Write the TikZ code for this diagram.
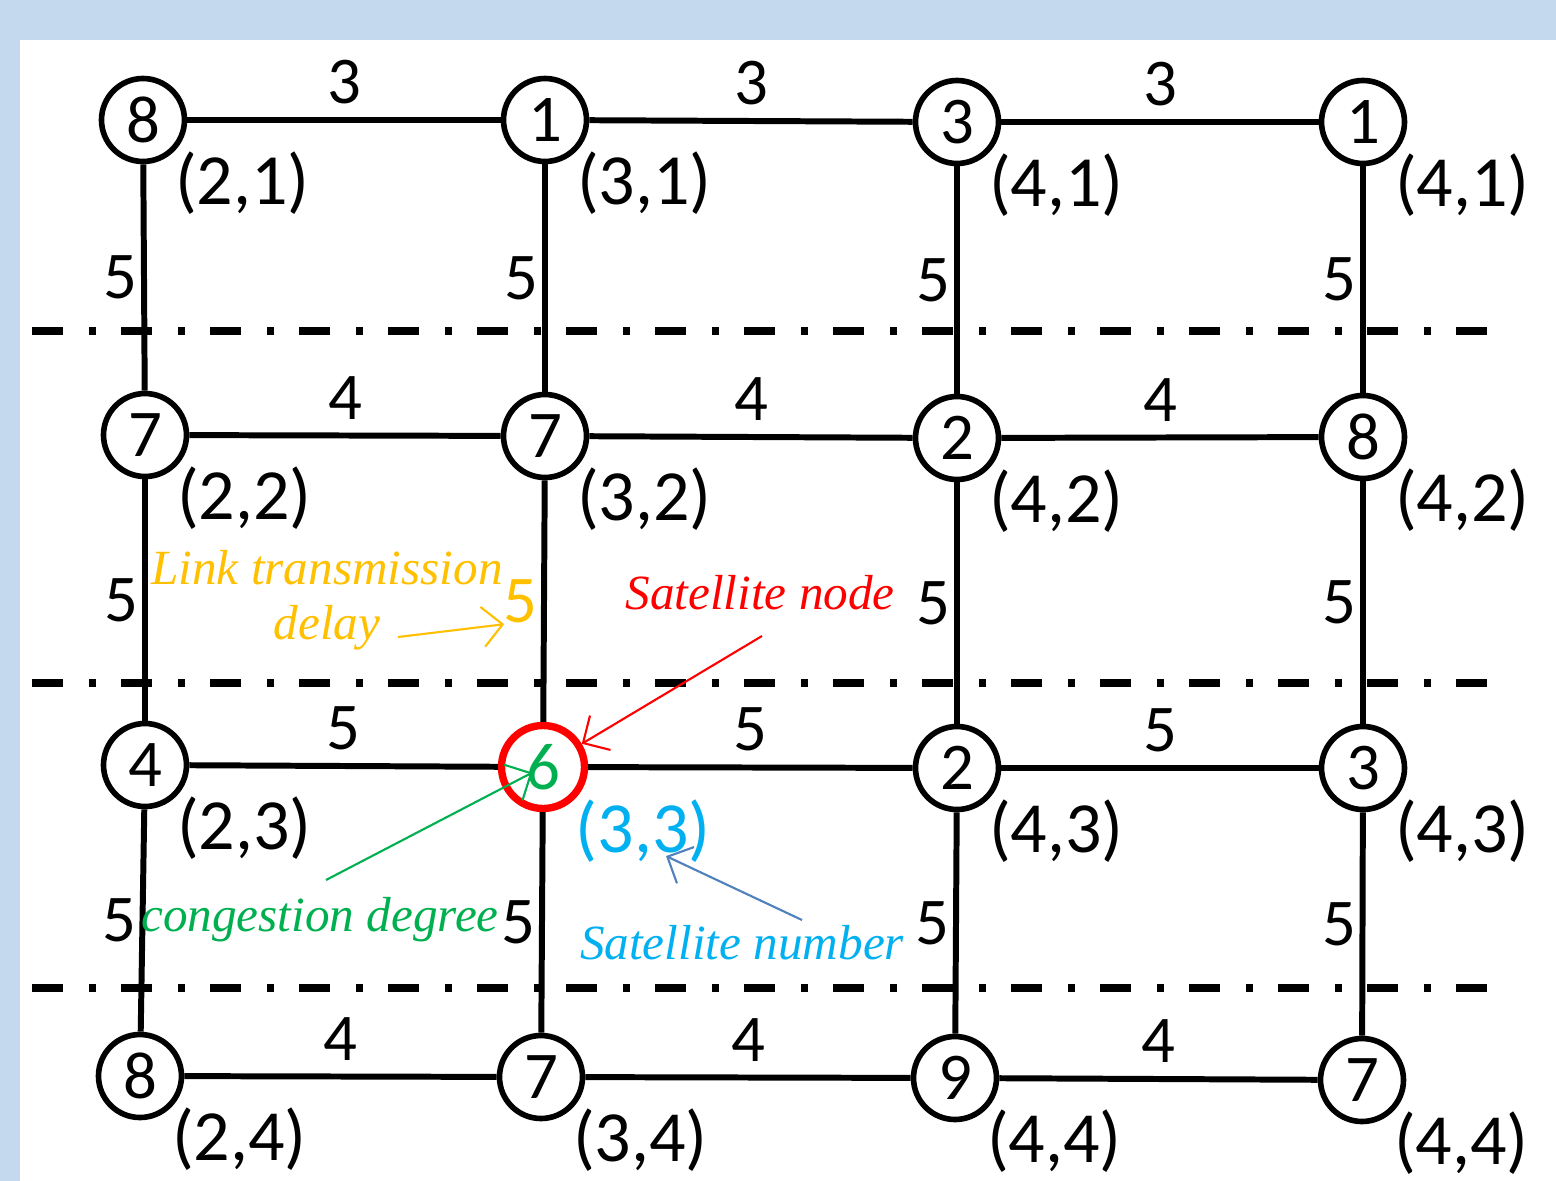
\documentclass[tikz,border=0pt]{standalone}
\usepackage{fontspec}
\setmainfont{Carlito}
\newfontfamily\notefont{Liberation Serif}
\usetikzlibrary{arrows.meta}
\definecolor{bgblue}{RGB}{197,217,238}
\definecolor{delaygold}{RGB}{255,192,0}
\definecolor{congreen}{RGB}{0,176,80}
\definecolor{skyblue}{RGB}{0,176,240}
\definecolor{steelarrow}{RGB}{79,129,189}

\begin{document}
\begin{tikzpicture}[
    sat/.style={
      draw,
      circle,
      line width=1.6pt,
      minimum size=8.3mm,
      inner sep=0pt,
      fill=white,
      font=\fontsize{19}{23}\selectfont
    },
    hot/.style={
      sat,
      draw=red,
      line width=2.1pt,
      text=congreen
    },
    link/.style={line width=1.7pt},
    wt/.style={font=\fontsize{19}{23}\selectfont, inner sep=1pt},
    note/.style={
      font=\notefont\itshape\fontsize{14}{15.6}\selectfont,
      align=center
    },
    tip/.style={-{Straight Barb[length=2mm,width=4mm]}, line width=0.6pt},
    band/.style={line width=2pt, dash pattern=on 3.1mm off 2.6mm on 0.7mm off 2.5mm},
    every label/.style={font=\fontsize{20.5}{24}\selectfont, inner sep=0pt}
    ]
    \useasboundingbox (0,0) rectangle (15.56,-11.81);
    \fill[bgblue] (0,0) rectangle (15.56,-11.81);
    \fill[white] (0.20,-0.40) rectangle (15.56,-11.81);

    \node[sat,label={below right:{(2,1)}}] at (1.43,-1.20)
      (n11) {8};
    \node[sat,label={below right:{(3,1)}}] at (5.45,-1.20)
      (n12) {1};
    \node[sat,label={below right:{(4,1)}}] at (9.57,-1.22)
      (n13) {3};
    \node[sat,label={below right:{(4,1)}}] at (13.63,-1.22)
      (n14) {1};

    \node[sat,label={below right:{(2,2)}}] at (1.45,-4.35)
      (n21) {7};
    \node[sat,label={below right:{(3,2)}}] at (5.45,-4.36)
      (n22) {7};
    \node[sat,label={below right:{(4,2)}}] at (9.57,-4.38)
      (n23) {2};
    \node[sat,label={below right:{(4,2)}}] at (13.63,-4.37)
      (n24) {8};

    \node[sat,label={below right:{(2,3)}}] at (1.45,-7.65)
      (n31) {4};
    \node[hot,label={[name=l33,text=skyblue]below right:{(3,3)}}] at (5.43,-7.67)
      (n33) {6};
    \node[sat,label={below right:{(4,3)}}] at (9.57,-7.68)
      (n34) {2};
    \node[sat,label={below right:{(4,3)}}] at (13.63,-7.68)
      (n35) {3};

    \node[sat,label={below right:{(2,4)}}] at (1.40,-10.76)
      (n41) {8};
    \node[sat,label={below right:{(3,4)}}] at (5.41,-10.77)
      (n42) {7};
    \node[sat,label={below right:{(4,4)}}] at (9.55,-10.78)
      (n43) {9};
    \node[sat,label={below right:{(4,4)}}] at (13.62,-10.80)
      (n44) {7};

    \draw[link] (n11) -- node[wt,above=1mm] {3} (n12);
    \draw[link] (n12) -- node[wt,above=1mm] {3} (n13);
    \draw[link] (n13) -- node[wt,above=1mm] {3} (n14);
    \draw[link] (n21) -- node[wt,above=1mm] {4} (n22);
    \draw[link] (n22) -- node[wt,above=1mm] {4} (n23);
    \draw[link] (n23) -- node[wt,above=1mm] {4} (n24);
    \draw[link] (n31) -- node[wt,above=1mm] {5} (n33);
    \draw[link] (n33) -- node[wt,above=1mm] {5} (n34);
    \draw[link] (n34) -- node[wt,above=1mm] {5} (n35);
    \draw[link] (n41) -- node[wt,above=1mm] {4} (n42);
    \draw[link] (n42) -- node[wt,above=1mm] {4} (n43);
    \draw[link] (n43) -- node[wt,above=1mm] {4} (n44);

    \draw[link] (n11) -- node[wt,left] {5} (n21);
    \draw[link] (n12) -- node[wt,left] {5} (n22);
    \draw[link] (n13) -- node[wt,left] {5} (n23);
    \draw[link] (n14) -- node[wt,left] {5} (n24);
    \draw[link] (n21) -- node[wt,left] {5} (n31);
    \draw[link] (n22) -- node[wt,left,text=delaygold] (dly5) {5} (n33);
    \draw[link] (n23) -- node[wt,left] {5} (n34);
    \draw[link] (n24) -- node[wt,left] {5} (n35);
    \draw[link] (n31) -- node[wt,left] {5} (n41);
    \draw[link] (n33) -- node[wt,left] {5} (n42);
    \draw[link] (n34) -- node[wt,left] {5} (n43);
    \draw[link] (n35) -- node[wt,left] {5} (n44);

    \draw[band] (0.32,-3.31) -- (14.90,-3.31);
    \draw[band] (0.32,-6.83) -- (14.90,-6.83);
    \draw[band] (0.32,-9.88) -- (14.90,-9.88);

    \node[note,text=delaygold] at (3.27,-6.00)
      (delaytxt) {Link transmission\\delay};
    \node[note,text=red] at (7.60,-5.93)
      (nodetxt) {Satellite node};
    \node[note,text=congreen] at (3.20,-9.20)
      (congtxt) {congestion degree};
    \node[note,text=skyblue] at (7.42,-9.43)
      (numtxt) {Satellite number};

    \coordinate (delaytail) at (3.98,-6.37);
    \coordinate (nodetail) at (7.62,-6.36);
    \coordinate (congtail) at (3.26,-8.80);
    \coordinate (numtail) at (8.02,-9.20);

    \draw[tip,delaygold] (delaytail) -- ([shift={(0.07,0.05)}]dly5.south west);
    \draw[tip,red] (nodetail) -- (n33);
    \draw[tip,congreen,shorten >=1.2mm] (congtail) -- (n33.center);
    \draw[tip,steelarrow] (numtail) -- ([xshift=2.3mm,yshift=0.7mm]l33.south);
\end{tikzpicture}
\end{document}
